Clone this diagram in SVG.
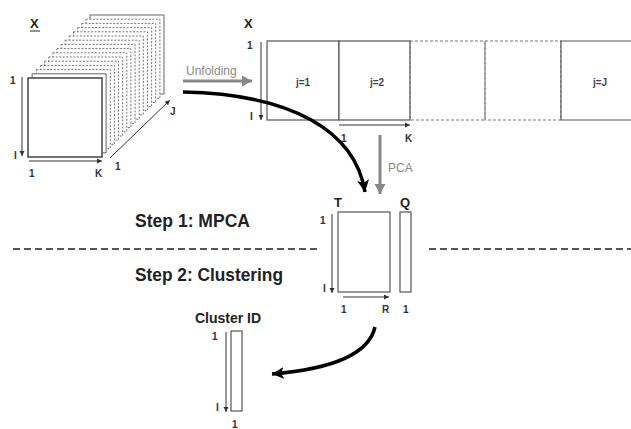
<svg xmlns="http://www.w3.org/2000/svg" width="631" height="429" viewBox="0 0 631 429">
<defs>
<style>
.lbl{font-family:"Liberation Sans",Arial,sans-serif;font-size:10px;font-weight:bold;fill:#333}
.big{font-family:"Liberation Sans",Arial,sans-serif;font-weight:bold;fill:#222}
.jl{font-family:"Liberation Sans",Arial,sans-serif;font-size:10px;font-weight:bold;fill:#444}
.gl{font-family:"Liberation Sans",Arial,sans-serif;font-size:12px;fill:#888}
.ax{stroke:#333;stroke-width:1;fill:none;marker-end:url(#ah)}
.sheet{fill:#fff;stroke:#666;stroke-width:1}
.dsheet{fill:#fff;stroke:#777;stroke-width:1;stroke-dasharray:2 1.5}
.box{fill:#fff;stroke:#555;stroke-width:1.2}
.dbox{fill:none;stroke:#777;stroke-width:1.2;stroke-dasharray:3 2}
.garrow{stroke:#888;stroke-width:3;fill:none;marker-end:url(#gh)}
.barrow{stroke:#000;stroke-width:3.5;fill:none;marker-end:url(#bh)}
.sep{stroke:#555;stroke-width:2;stroke-dasharray:7 4;fill:none}
</style>
<marker id="ah" markerUnits="userSpaceOnUse" markerWidth="6" markerHeight="6" refX="5" refY="3" orient="auto"><path d="M0,0.5 L5,3 L0,5.5 z" fill="#333"/></marker>
<marker id="gh" markerUnits="userSpaceOnUse" markerWidth="12" markerHeight="12" refX="10" refY="6" orient="auto"><path d="M0,0.5 L10,6 L0,11.5 z" fill="#888"/></marker>
<marker id="bh" markerUnits="userSpaceOnUse" markerWidth="14" markerHeight="14" refX="12" refY="7" orient="auto"><path d="M0,1 L12,7 L0,13 L3,7 z" fill="#000"/></marker>
</defs>
<rect width="631" height="429" fill="#fff"/>

<g id="tensor">
<rect class="sheet" x="90" y="15" width="74" height="79"/>
<rect class="dsheet" x="85.9" y="19.2" width="74" height="79"/>
<rect class="dsheet" x="81.7" y="23.4" width="74" height="79"/>
<rect class="dsheet" x="77.6" y="27.6" width="74" height="79"/>
<rect class="dsheet" x="73.5" y="31.8" width="74" height="79"/>
<rect class="dsheet" x="69.3" y="36" width="74" height="79"/>
<rect class="dsheet" x="65.2" y="40.2" width="74" height="79"/>
<rect class="dsheet" x="61.1" y="44.4" width="74" height="79"/>
<rect class="dsheet" x="56.9" y="48.6" width="74" height="79"/>
<rect class="dsheet" x="52.8" y="52.8" width="74" height="79"/>
<rect class="dsheet" x="48.7" y="57" width="74" height="79"/>
<rect class="dsheet" x="44.5" y="61.2" width="74" height="79"/>
<rect class="dsheet" x="40.4" y="65.4" width="74" height="79"/>
<rect class="dsheet" x="36.3" y="69.6" width="74" height="79"/>
<rect class="sheet" x="32.1" y="73.8" width="74" height="79"/>
<rect x="28" y="78" width="74" height="79" fill="#fff" stroke="#444" stroke-width="1.5"/>
<text class="big" x="30" y="28" font-size="13">X</text>
<line x1="30" y1="31" x2="40" y2="31" stroke="#222" stroke-width="1"/>
<line class="ax" x1="22" y1="77" x2="22" y2="156"/>
<line class="ax" x1="29" y1="161" x2="102" y2="161"/>
<line class="ax" x1="110" y1="158" x2="170" y2="100"/>
<text class="lbl" x="10" y="84">1</text>
<text class="lbl" x="14" y="159">I</text>
<text class="lbl" x="29" y="177">1</text>
<text class="lbl" x="95" y="177">K</text>
<text class="lbl" x="115" y="170">1</text>
<text class="lbl" x="170" y="115">J</text>
</g>

<g id="unfolded">
<text class="big" x="244" y="28" font-size="13">X</text>
<rect class="box" x="267" y="41" width="72" height="79"/>
<rect class="box" x="339" y="41" width="71" height="79"/>
<rect class="dbox" x="410" y="41" width="75" height="79"/>
<rect class="dbox" x="485" y="41" width="76" height="79"/>
<path d="M634,41 H561 V120 H634" class="box"/>
<text class="jl" x="303" y="86" text-anchor="middle">j=1</text>
<text class="jl" x="377" y="86" text-anchor="middle">j=2</text>
<text class="jl" x="600" y="86" text-anchor="middle">j=J</text>
<line class="ax" x1="261" y1="42" x2="261" y2="120"/>
<text class="lbl" x="247" y="49">1</text>
<text class="lbl" x="250" y="120">I</text>
<line class="ax" x1="339" y1="125" x2="410" y2="125"/>
<text class="lbl" x="341" y="142">1</text>
<text class="lbl" x="405" y="142">K</text>
</g>

<g id="scores">
<text class="big" x="334" y="207" font-size="13">T</text>
<text class="big" x="400" y="207" font-size="13">Q</text>
<rect class="box" x="338" y="212" width="52" height="80"/>
<rect class="box" x="400" y="212" width="11" height="80"/>
<line class="ax" x1="332" y1="214" x2="332" y2="293"/>
<text class="lbl" x="320" y="224">1</text>
<text class="lbl" x="323" y="292">I</text>
<line class="ax" x1="343" y1="297" x2="389" y2="297"/>
<text class="lbl" x="341" y="313">1</text>
<text class="lbl" x="382" y="313">R</text>
<text class="lbl" x="403" y="313">1</text>
</g>

<g id="cluster">
<text class="big" x="195" y="323" font-size="14">Cluster ID</text>
<rect class="box" x="231" y="331" width="11" height="80"/>
<line class="ax" x1="226" y1="332" x2="226" y2="412"/>
<text class="lbl" x="212" y="340">1</text>
<text class="lbl" x="216" y="411">I</text>
<text class="lbl" x="232" y="428">1</text>
</g>

<g id="steps">
<text class="big" x="135" y="227" font-size="17.5" textLength="115" lengthAdjust="spacingAndGlyphs">Step 1: MPCA</text>
<text class="big" x="135" y="281" font-size="17.5" textLength="148" lengthAdjust="spacingAndGlyphs">Step 2: Clustering</text>
<line class="sep" x1="13" y1="249" x2="318" y2="249"/>
<line class="sep" x1="429" y1="249" x2="631" y2="249"/>
</g>

<g id="connectors">
<text class="gl" x="186" y="75">Unfolding</text>
<line class="garrow" x1="183" y1="81" x2="252" y2="81"/>
<line class="garrow" x1="380" y1="135" x2="380" y2="194"/>
<text class="gl" x="388" y="172">PCA</text>
<path class="barrow" d="M183,92 C290,94 355,130 365,192"/>
<path class="barrow" d="M375,327 C368,358 320,370 272,374"/>
</g>
</svg>
